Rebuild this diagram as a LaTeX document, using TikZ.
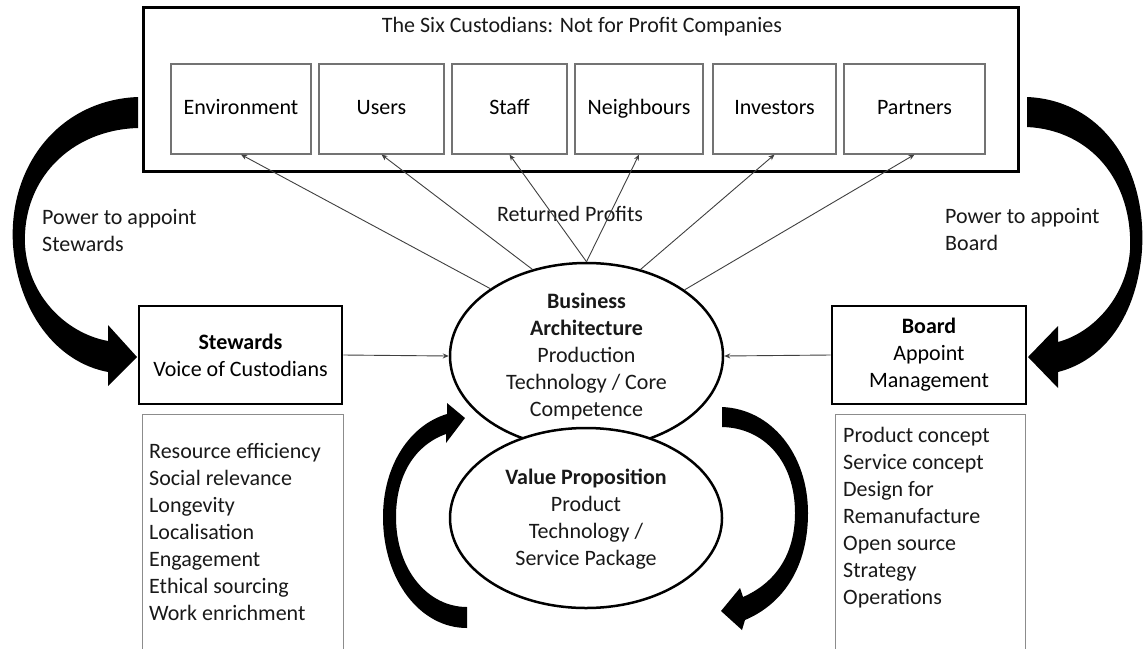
\documentclass[tikz,border=0pt]{standalone}
\usepackage{fontspec}
\setmainfont{Carlito}
\usetikzlibrary{shapes.geometric,arrows.meta}
\begin{document}
\begin{tikzpicture}[x=1pt,y=-1pt,
  font=\fontsize{22}{27}\selectfont,
  outerbox/.style={draw, line width=3pt, inner sep=0pt},
  custbox/.style={draw=black!55, line width=1.1pt, minimum height=90pt, inner sep=0pt, text height=14pt, text depth=4pt},
  mainbox/.style={draw, line width=2.6pt, inner sep=0pt, minimum height=98pt},
  listbox/.style={draw=black!45, line width=1pt, inner sep=0pt},
  oval/.style={ellipse, draw, line width=2.5pt, fill=white, inner sep=0pt},
  conn/.style={draw=black!75, line width=0.9pt, -{Stealth[length=6pt,width=5pt]}},
  bigarrow/.style={fill=black},
  txt/.style={inner sep=0pt, align=center, text=black!90},
  ltxt/.style={inner sep=0pt, align=left, anchor=west, text=black!90}]
\useasboundingbox (0,0) rectangle (1147,648);
\clip (0,0) rectangle (1147,648);
\fill[white] (0,0) rectangle (1147,648);

% top container
\node[outerbox, minimum width=875pt, minimum height=164pt] (top) at (580.5,89) {};
\node[txt] (title) at (582,27) {The Six Custodians: Not for Profit Companies};
\node[custbox, minimum width=140pt] (env) at (241,109) {Environment};
\node[custbox, minimum width=125pt] (users) at (381.5,109) {Users};
\node[custbox, minimum width=115pt] (staff) at (509.5,109) {Staff};
\node[custbox, minimum width=128pt] (neigh) at (639,109) {Neighbours};
\node[custbox, minimum width=123pt] (inv) at (774.5,109) {Investors};
\node[custbox, minimum width=141pt] (part) at (914.5,109) {Partners};

% side boxes
\node[mainbox, minimum width=203pt, align=center] (stew) at (240.5,355) {\textbf{Stewards}\\Voice of Custodians};
\node[mainbox, minimum width=194pt, align=center] (board) at (929,355) {\textbf{Board}\\Appoint\\Management};

\node[listbox, minimum width=201pt, minimum height=238pt] (llist) at (242.5,533) {};
\node[listbox, minimum width=190pt, minimum height=238pt] (rlist) at (930,533) {};
\node[ltxt] (ltext) at (149,532) {Resource efficiency\\Social relevance\\Longevity\\Localisation\\Engagement\\Ethical sourcing\\Work enrichment};
\node[ltxt] (rtext) at (843,518) {Product concept\\Service concept\\Design for\\Remanufacture\\Open source\\Strategy\\Operations};

% ellipses
\node[oval, minimum width=273pt, minimum height=186pt] (ba) at (586.5,356) {};
\node[txt] (batext) at (586.5,356.5) {\textbf{Business}\\\textbf{Architecture}\\Production\\Technology / Core\\Competence};
\node[oval, minimum width=272pt, minimum height=180pt] (vp) at (586,518) {};
\node[txt] (vptext) at (586,519.5) {\textbf{Value Proposition}\\Product\\Technology /\\Service Package};

% labels
\node[txt] (ret) at (570,214) {Returned Profits};
\node[ltxt] (pls) at (42,230.5) {Power to appoint\\Stewards};
\node[ltxt] (plb) at (945,229.5) {Power to appoint\\Board};

% returned profit connectors
\draw[conn] (ba.145.4) -- (env.south);
\draw[conn] (ba.122.1) -- (users.south);
\draw[conn] (ba.90) -- (staff.south);
\draw[conn] (ba.90) -- (neigh.south);
\draw[conn] (ba.58.4) -- (inv.south);
\draw[conn] (ba.34.1) -- (part.south);
\draw[conn] (stew.east) -- (ba.west);
\draw[conn] (board.west) -- (ba.east);

% big curved arrows
\fill[bigarrow] (138,97) .. controls (60,100) and (8,165) .. (13,245)
  .. controls (18,310) and (55,362) .. (108,372) -- (108,386) -- (137,357) -- (108,325) -- (108,341)
  .. controls (65,333) and (28,295) .. (25,245)
  .. controls (22,180) and (70,130) .. (138,128) -- cycle;
\fill[bigarrow] (1027,97) .. controls (1100,100) and (1147,165) .. (1142,250)
  .. controls (1137,315) and (1105,360) .. (1058,372) -- (1058,388) -- (1028,357) -- (1058,326) -- (1058,342)
  .. controls (1095,332) and (1127,295) .. (1130,250)
  .. controls (1133,180) and (1090,130) .. (1027,127) -- cycle;

% centre cycle arrows
\fill[bigarrow] (467,607) .. controls (428,607) and (396,570) .. (396,517)
  .. controls (396,475) and (415,445) .. (446,434) -- (446,443) -- (465,418) -- (447,403) -- (447,414)
  .. controls (410,425) and (383,465) .. (383,517)
  .. controls (383,580) and (420,628) .. (467,628) -- cycle;
\fill[bigarrow] (722,407) .. controls (772,409) and (808,455) .. (808,513)
  .. controls (808,565) and (785,603) .. (745,620) -- (742,630) -- (721,611) -- (740,588) -- (743,597)
  .. controls (775,583) and (795,555) .. (795,513)
  .. controls (795,462) and (765,428) .. (722,427) -- cycle;
\end{tikzpicture}
\end{document}
